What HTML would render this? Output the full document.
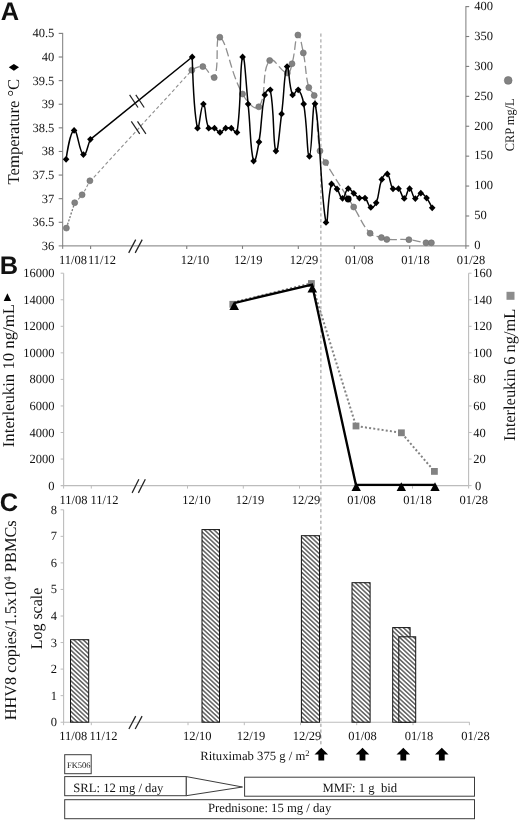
<!DOCTYPE html>
<html><head><meta charset="utf-8"><title>Figure</title>
<style>html,body{margin:0;padding:0;background:#fff;}body{width:520px;height:822px;overflow:hidden;font-family:"Liberation Serif",serif;}svg{display:block;will-change:transform;opacity:0.999;}text{text-rendering:geometricPrecision;}</style>
</head><body>
<svg width="520" height="822" viewBox="0 0 520 822">
<defs><pattern id="hatch" patternUnits="userSpaceOnUse" width="3.2" height="3.2" patternTransform="rotate(43)"><rect width="3.2" height="3.2" fill="#fff"/><line x1="0" y1="1.6" x2="3.2" y2="1.6" stroke="#0a0a0a" stroke-width="0.98"/></pattern></defs>
<rect width="520" height="822" fill="#fff"/>
<text x="0.8" y="19.7" font-family='"Liberation Sans", sans-serif' font-size="25.4" font-weight="bold" text-anchor="start" fill="#111" >A</text>
<text x="-0.2" y="273.7" font-family='"Liberation Sans", sans-serif' font-size="25.4" font-weight="bold" text-anchor="start" fill="#111" >B</text>
<text x="-0.2" y="510.6" font-family='"Liberation Sans", sans-serif' font-size="25.4" font-weight="bold" text-anchor="start" fill="#111" >C</text>
<line x1="320.9" y1="33.5" x2="320.9" y2="746" stroke="#8e8e8e" stroke-width="0.95" stroke-dasharray="3.2 2.6"/>
<line x1="62.7" y1="32.9" x2="62.7" y2="248.9" stroke="#7c7c7c" stroke-width="1" />
<line x1="58.7" y1="245.9" x2="465.9" y2="245.9" stroke="#7c7c7c" stroke-width="1" />
<line x1="465.9" y1="6.1" x2="465.9" y2="248.9" stroke="#7c7c7c" stroke-width="1" />
<text x="54.3" y="249.8" font-family='"Liberation Serif", serif' font-size="12.5" font-weight="normal" text-anchor="end" fill="#111" >36</text>
<line x1="58.7" y1="222.29" x2="62.7" y2="222.29" stroke="#7c7c7c" stroke-width="1.1" />
<text x="54.3" y="226.19" font-family='"Liberation Serif", serif' font-size="12.5" font-weight="normal" text-anchor="end" fill="#111" >36.5</text>
<line x1="58.7" y1="198.68" x2="62.7" y2="198.68" stroke="#7c7c7c" stroke-width="1.1" />
<text x="54.3" y="202.58" font-family='"Liberation Serif", serif' font-size="12.5" font-weight="normal" text-anchor="end" fill="#111" >37</text>
<line x1="58.7" y1="175.07" x2="62.7" y2="175.07" stroke="#7c7c7c" stroke-width="1.1" />
<text x="54.3" y="178.97" font-family='"Liberation Serif", serif' font-size="12.5" font-weight="normal" text-anchor="end" fill="#111" >37.5</text>
<line x1="58.7" y1="151.46" x2="62.7" y2="151.46" stroke="#7c7c7c" stroke-width="1.1" />
<text x="54.3" y="155.36" font-family='"Liberation Serif", serif' font-size="12.5" font-weight="normal" text-anchor="end" fill="#111" >38</text>
<line x1="58.7" y1="127.84" x2="62.7" y2="127.84" stroke="#7c7c7c" stroke-width="1.1" />
<text x="54.3" y="131.74" font-family='"Liberation Serif", serif' font-size="12.5" font-weight="normal" text-anchor="end" fill="#111" >38.5</text>
<line x1="58.7" y1="104.23" x2="62.7" y2="104.23" stroke="#7c7c7c" stroke-width="1.1" />
<text x="54.3" y="108.13" font-family='"Liberation Serif", serif' font-size="12.5" font-weight="normal" text-anchor="end" fill="#111" >39</text>
<line x1="58.7" y1="80.62" x2="62.7" y2="80.62" stroke="#7c7c7c" stroke-width="1.1" />
<text x="54.3" y="84.52" font-family='"Liberation Serif", serif' font-size="12.5" font-weight="normal" text-anchor="end" fill="#111" >39.5</text>
<line x1="58.7" y1="57.01" x2="62.7" y2="57.01" stroke="#7c7c7c" stroke-width="1.1" />
<text x="54.3" y="60.91" font-family='"Liberation Serif", serif' font-size="12.5" font-weight="normal" text-anchor="end" fill="#111" >40</text>
<line x1="58.7" y1="33.4" x2="62.7" y2="33.4" stroke="#7c7c7c" stroke-width="1.1" />
<text x="54.3" y="37.3" font-family='"Liberation Serif", serif' font-size="12.5" font-weight="normal" text-anchor="end" fill="#111" >40.5</text>
<line x1="465.9" y1="245.9" x2="469.2" y2="245.9" stroke="#7c7c7c" stroke-width="1.1" />
<text x="474.2" y="249.2" font-family='"Liberation Serif", serif' font-size="12.5" font-weight="normal" text-anchor="start" fill="#111" >0</text>
<line x1="465.9" y1="215.99" x2="469.2" y2="215.99" stroke="#7c7c7c" stroke-width="1.1" />
<text x="474.2" y="219.29" font-family='"Liberation Serif", serif' font-size="12.5" font-weight="normal" text-anchor="start" fill="#111" >50</text>
<line x1="465.9" y1="186.07" x2="469.2" y2="186.07" stroke="#7c7c7c" stroke-width="1.1" />
<text x="474.2" y="189.38" font-family='"Liberation Serif", serif' font-size="12.5" font-weight="normal" text-anchor="start" fill="#111" >100</text>
<line x1="465.9" y1="156.16" x2="469.2" y2="156.16" stroke="#7c7c7c" stroke-width="1.1" />
<text x="474.2" y="159.46" font-family='"Liberation Serif", serif' font-size="12.5" font-weight="normal" text-anchor="start" fill="#111" >150</text>
<line x1="465.9" y1="126.25" x2="469.2" y2="126.25" stroke="#7c7c7c" stroke-width="1.1" />
<text x="474.2" y="129.55" font-family='"Liberation Serif", serif' font-size="12.5" font-weight="normal" text-anchor="start" fill="#111" >200</text>
<line x1="465.9" y1="96.34" x2="469.2" y2="96.34" stroke="#7c7c7c" stroke-width="1.1" />
<text x="474.2" y="99.64" font-family='"Liberation Serif", serif' font-size="12.5" font-weight="normal" text-anchor="start" fill="#111" >250</text>
<line x1="465.9" y1="66.42" x2="469.2" y2="66.42" stroke="#7c7c7c" stroke-width="1.1" />
<text x="474.2" y="69.72" font-family='"Liberation Serif", serif' font-size="12.5" font-weight="normal" text-anchor="start" fill="#111" >300</text>
<line x1="465.9" y1="36.51" x2="469.2" y2="36.51" stroke="#7c7c7c" stroke-width="1.1" />
<text x="474.2" y="39.81" font-family='"Liberation Serif", serif' font-size="12.5" font-weight="normal" text-anchor="start" fill="#111" >350</text>
<line x1="465.9" y1="6.6" x2="469.2" y2="6.6" stroke="#7c7c7c" stroke-width="1.1" />
<text x="474.2" y="9.9" font-family='"Liberation Serif", serif' font-size="12.5" font-weight="normal" text-anchor="start" fill="#111" >400</text>
<line x1="90.6" y1="245.9" x2="90.6" y2="248.9" stroke="#7c7c7c" stroke-width="1.1" />
<line x1="186.75" y1="245.9" x2="186.75" y2="248.9" stroke="#7c7c7c" stroke-width="1.1" />
<line x1="242.5" y1="245.9" x2="242.5" y2="248.9" stroke="#7c7c7c" stroke-width="1.1" />
<line x1="298.3" y1="245.9" x2="298.3" y2="248.9" stroke="#7c7c7c" stroke-width="1.1" />
<line x1="354.3" y1="245.9" x2="354.3" y2="248.9" stroke="#7c7c7c" stroke-width="1.1" />
<line x1="409.7" y1="245.9" x2="409.7" y2="248.9" stroke="#7c7c7c" stroke-width="1.1" />
<text x="73.1" y="264.2" font-family='"Liberation Serif", serif' font-size="12.5" font-weight="normal" text-anchor="middle" fill="#111" >11/08</text>
<text x="102.1" y="264.2" font-family='"Liberation Serif", serif' font-size="12.5" font-weight="normal" text-anchor="middle" fill="#111" >11/12</text>
<text x="195" y="264.2" font-family='"Liberation Serif", serif' font-size="12.5" font-weight="normal" text-anchor="middle" fill="#111" >12/10</text>
<text x="248.2" y="264.2" font-family='"Liberation Serif", serif' font-size="12.5" font-weight="normal" text-anchor="middle" fill="#111" >12/19</text>
<text x="303.9" y="264.2" font-family='"Liberation Serif", serif' font-size="12.5" font-weight="normal" text-anchor="middle" fill="#111" >12/29</text>
<text x="359.2" y="264.2" font-family='"Liberation Serif", serif' font-size="12.5" font-weight="normal" text-anchor="middle" fill="#111" >01/08</text>
<text x="415.4" y="264.2" font-family='"Liberation Serif", serif' font-size="12.5" font-weight="normal" text-anchor="middle" fill="#111" >01/18</text>
<text x="471" y="264.2" font-family='"Liberation Serif", serif' font-size="12.5" font-weight="normal" text-anchor="middle" fill="#111" >01/28</text>
<line x1="128.7" y1="252.9" x2="135.7" y2="239.6" stroke="#222" stroke-width="1.25" />
<line x1="135.2" y1="252.9" x2="142.2" y2="239.6" stroke="#222" stroke-width="1.25" />
<text transform="translate(18.9 184.4) rotate(-90)" font-family='"Liberation Serif", serif' font-size="16.5" fill="#111" textLength="105.6" lengthAdjust="spacingAndGlyphs" >Temperature °C</text>
<path d="M8.8 67.3 L13.9 63.9 L19 67.3 L13.9 70.7Z" fill="#000"/>
<text transform="translate(513.5 151.2) rotate(-90)" font-family='"Liberation Serif", serif' font-size="13" fill="#111" textLength="52.9" lengthAdjust="spacingAndGlyphs" >CRP mg/L</text>
<circle cx="508.2" cy="80.4" r="3.9" fill="#828282" stroke="#6e6e6e" stroke-width="0.6"/>
<path d="M66.4 228.1 C66.4 228.1 70.97 214.13 74.7 202.7" fill="none" stroke="#777" stroke-width="1.3" stroke-dasharray="2 1.6"/>
<path d="M74.7 202.7 C74.7 202.7 79.34 198.77 82.1 194.8 C86.18 188.92 86.39 187.1 89.9 180.8" fill="none" stroke="#8f8f8f" stroke-width="1.1" stroke-dasharray="3 2"/>
<line x1="89.9" y1="181.6" x2="191.8" y2="70.3" stroke="#8f8f8f" stroke-width="1.1" stroke-dasharray="3.4 2.4"/>
<path d="M191.8 70.2 C191.8 70.2 198.54 65.19 202.8 66.6 C208.62 68.52 212.06 81.3 214.2 77.6 C219.71 68.07 214.71 34.25 219.8 37.2 C227.44 41.63 229.39 70.61 242.5 94 C246.94 101.93 255.09 111.38 258.8 106.8 C267.33 96.3 260.88 70.96 269.7 60.5 C273.7 55.75 280.51 72 287.3 73 C290.55 73.48 290.76 68.25 292 63.8 C295.53 51.15 294.79 38 297.9 35 C299.88 33.09 301.6 44.68 303.3 52.9 C306.5 68.35 304.94 72.53 308.8 87.6 C309.85 91.7 313.46 91.32 314.2 95.5 C318.5 119.81 315.81 126.42 320 150.9 C320.98 156.62 322.69 157.58 325.7 162.6 C337.85 182.83 341.14 187 353.7 207 C361.12 218.81 361.13 223.39 370.1 233.3 C373.6 237.16 376.29 235.73 381.4 237.6 C383.81 238.48 384.27 239.21 386.8 239.4 C396.64 240.15 399.02 238.84 408.9 239.7 C416.66 240.37 418.28 241.74 426 242.8 C428.4 243.13 428.97 242.8 431.4 242.8" fill="none" stroke="#8f8f8f" stroke-width="1.3" stroke-dasharray="8.5 3.5"/>
<line x1="131.3" y1="121.3" x2="139.7" y2="133.9" stroke="#222" stroke-width="1.2" />
<line x1="137.5" y1="121.3" x2="145.9" y2="133.9" stroke="#222" stroke-width="1.2" />
<circle cx="66.4" cy="228.1" r="3.0" fill="#828282" stroke="#6e6e6e" stroke-width="0.6"/>
<circle cx="74.7" cy="202.7" r="3.0" fill="#828282" stroke="#6e6e6e" stroke-width="0.6"/>
<circle cx="82.1" cy="194.8" r="3.0" fill="#828282" stroke="#6e6e6e" stroke-width="0.6"/>
<circle cx="89.9" cy="180.8" r="3.0" fill="#828282" stroke="#6e6e6e" stroke-width="0.6"/>
<circle cx="191.8" cy="70.2" r="3.0" fill="#828282" stroke="#6e6e6e" stroke-width="0.6"/>
<circle cx="202.8" cy="66.6" r="3.0" fill="#828282" stroke="#6e6e6e" stroke-width="0.6"/>
<circle cx="214.2" cy="77.6" r="3.0" fill="#828282" stroke="#6e6e6e" stroke-width="0.6"/>
<circle cx="219.8" cy="37.2" r="3.0" fill="#828282" stroke="#6e6e6e" stroke-width="0.6"/>
<circle cx="242.5" cy="94" r="3.0" fill="#828282" stroke="#6e6e6e" stroke-width="0.6"/>
<circle cx="258.8" cy="106.8" r="3.0" fill="#828282" stroke="#6e6e6e" stroke-width="0.6"/>
<circle cx="269.7" cy="60.5" r="3.0" fill="#828282" stroke="#6e6e6e" stroke-width="0.6"/>
<circle cx="287.3" cy="73" r="3.0" fill="#828282" stroke="#6e6e6e" stroke-width="0.6"/>
<circle cx="292" cy="63.8" r="3.0" fill="#828282" stroke="#6e6e6e" stroke-width="0.6"/>
<circle cx="297.9" cy="35" r="3.0" fill="#828282" stroke="#6e6e6e" stroke-width="0.6"/>
<circle cx="303.3" cy="52.9" r="3.0" fill="#828282" stroke="#6e6e6e" stroke-width="0.6"/>
<circle cx="308.8" cy="87.6" r="3.0" fill="#828282" stroke="#6e6e6e" stroke-width="0.6"/>
<circle cx="314.2" cy="95.5" r="3.0" fill="#828282" stroke="#6e6e6e" stroke-width="0.6"/>
<circle cx="320" cy="150.9" r="3.0" fill="#828282" stroke="#6e6e6e" stroke-width="0.6"/>
<circle cx="325.7" cy="162.6" r="3.0" fill="#828282" stroke="#6e6e6e" stroke-width="0.6"/>
<circle cx="353.7" cy="207" r="3.0" fill="#828282" stroke="#6e6e6e" stroke-width="0.6"/>
<circle cx="370.1" cy="233.3" r="3.0" fill="#828282" stroke="#6e6e6e" stroke-width="0.6"/>
<circle cx="381.4" cy="237.6" r="3.0" fill="#828282" stroke="#6e6e6e" stroke-width="0.6"/>
<circle cx="386.8" cy="239.4" r="3.0" fill="#828282" stroke="#6e6e6e" stroke-width="0.6"/>
<circle cx="408.9" cy="239.7" r="3.0" fill="#828282" stroke="#6e6e6e" stroke-width="0.6"/>
<circle cx="426" cy="242.8" r="3.0" fill="#828282" stroke="#6e6e6e" stroke-width="0.6"/>
<circle cx="431.4" cy="242.8" r="3.0" fill="#828282" stroke="#6e6e6e" stroke-width="0.6"/>
<path d="M66.1 159.3 C66.1 159.3 69.92 131.53 74.1 130.4 C77.71 129.42 78.95 152.17 83.4 154.6 C86.29 156.18 87.25 146.19 90.4 139.3" fill="none" stroke="#000" stroke-width="1.5" stroke-linejoin="round"/>
<line x1="90.4" y1="139.3" x2="192.2" y2="57" stroke="#000" stroke-width="1.5" />
<path d="M192.2 57 C192.2 57 193.76 112.47 197.5 128.2 C198.8 133.67 200.87 104.1 203.4 104.1 C205.91 104.1 204.66 119.42 208.7 128.2 C209.65 130.26 212.18 127.34 214.5 128.2 C217.27 129.23 217.51 132.4 220 132.4 C222.55 132.4 222.86 129.26 225.7 128.2 C227.95 127.37 229.05 127.37 231.3 128.2 C234.14 129.26 236.56 135.14 237 132.4 C241.65 103.1 239.53 64.83 242.6 57 C244.53 52.09 245.86 82.88 248.1 104.1 C250.81 129.73 249.96 148.43 253.6 161.1 C254.86 165.49 257.51 150.79 259 142 C262.55 121 260.41 115.18 264.8 94.9 C265.49 91.69 269.76 87.05 270.3 89.8 C274.75 112.34 272.74 144.37 275.9 151.1 C277.83 155.21 279.38 130.69 281.6 113.9 C284.42 92.66 284.02 71.93 287.1 66.6 C288.97 63.38 288.64 86.63 292.6 94.9 C293.64 97.07 296.54 88.44 298.2 89.8 C301.54 92.53 302.57 97.28 303.7 104 C307.61 127.21 306.86 156.34 309.4 156.3 C311.95 156.25 312.71 94.66 315 103.8 C320.18 124.41 320.4 195.18 326 222.4 C327.82 231.27 327.35 196.61 331.5 184 C332.3 181.58 334.98 186.38 337 189 C339.93 192.81 340.03 198.39 342.5 198.3 C345.07 198.21 345.12 189.96 348.2 188.6 C350.2 187.71 351.29 191.17 353.8 193.3 C356.33 195.45 356.54 196.87 359.4 198.1 C361.58 199.03 363.27 196.68 365 198.1 C368.4 200.87 367.74 206.12 370.8 207.4 C372.78 208.23 375.07 205.67 376.2 202.8 C380.02 193.07 378.02 189.22 381.8 179.4 C383.01 176.26 385.65 172.62 387.3 174 C390.69 176.85 389.26 183.89 393 188.8 C394.3 190.5 396.84 187.28 398.5 188.7 C401.88 191.6 401.69 198.4 404.2 198.4 C406.68 198.4 407.14 188.66 409.6 188.7 C412.13 188.75 412.29 197.39 415.3 198.6 C417.33 199.42 418.24 193.31 420.8 193.2 C423.32 193.09 424.53 195.45 426.6 198.1 C429.66 202.02 429.68 203.44 432.2 207.8" fill="none" stroke="#000" stroke-width="1.5" stroke-linejoin="round"/>
<line x1="129.6" y1="94.9" x2="138" y2="107.5" stroke="#222" stroke-width="1.2" />
<line x1="135.8" y1="94.9" x2="144.2" y2="107.5" stroke="#222" stroke-width="1.2" />
<path d="M62.8 159.3 L66.1 155.9 L69.4 159.3 L66.1 162.7Z" fill="#000"/>
<path d="M70.8 130.4 L74.1 127 L77.4 130.4 L74.1 133.8Z" fill="#000"/>
<path d="M80.1 154.6 L83.4 151.2 L86.7 154.6 L83.4 158Z" fill="#000"/>
<path d="M87.1 139.3 L90.4 135.9 L93.7 139.3 L90.4 142.7Z" fill="#000"/>
<path d="M188.9 57 L192.2 53.6 L195.5 57 L192.2 60.4Z" fill="#000"/>
<path d="M194.2 128.2 L197.5 124.8 L200.8 128.2 L197.5 131.6Z" fill="#000"/>
<path d="M200.1 104.1 L203.4 100.7 L206.7 104.1 L203.4 107.5Z" fill="#000"/>
<path d="M205.4 128.2 L208.7 124.8 L212 128.2 L208.7 131.6Z" fill="#000"/>
<path d="M211.2 128.2 L214.5 124.8 L217.8 128.2 L214.5 131.6Z" fill="#000"/>
<path d="M216.7 132.4 L220 129 L223.3 132.4 L220 135.8Z" fill="#000"/>
<path d="M222.4 128.2 L225.7 124.8 L229 128.2 L225.7 131.6Z" fill="#000"/>
<path d="M228 128.2 L231.3 124.8 L234.6 128.2 L231.3 131.6Z" fill="#000"/>
<path d="M233.7 132.4 L237 129 L240.3 132.4 L237 135.8Z" fill="#000"/>
<path d="M239.3 57 L242.6 53.6 L245.9 57 L242.6 60.4Z" fill="#000"/>
<path d="M244.8 104.1 L248.1 100.7 L251.4 104.1 L248.1 107.5Z" fill="#000"/>
<path d="M250.3 161.1 L253.6 157.7 L256.9 161.1 L253.6 164.5Z" fill="#000"/>
<path d="M255.7 142 L259 138.6 L262.3 142 L259 145.4Z" fill="#000"/>
<path d="M261.5 94.9 L264.8 91.5 L268.1 94.9 L264.8 98.3Z" fill="#000"/>
<path d="M267 89.8 L270.3 86.4 L273.6 89.8 L270.3 93.2Z" fill="#000"/>
<path d="M272.6 151.1 L275.9 147.7 L279.2 151.1 L275.9 154.5Z" fill="#000"/>
<path d="M278.3 113.9 L281.6 110.5 L284.9 113.9 L281.6 117.3Z" fill="#000"/>
<path d="M283.8 66.6 L287.1 63.2 L290.4 66.6 L287.1 70Z" fill="#000"/>
<path d="M289.3 94.9 L292.6 91.5 L295.9 94.9 L292.6 98.3Z" fill="#000"/>
<path d="M294.9 89.8 L298.2 86.4 L301.5 89.8 L298.2 93.2Z" fill="#000"/>
<path d="M300.4 104 L303.7 100.6 L307 104 L303.7 107.4Z" fill="#000"/>
<path d="M306.1 156.3 L309.4 152.9 L312.7 156.3 L309.4 159.7Z" fill="#000"/>
<path d="M311.7 103.8 L315 100.4 L318.3 103.8 L315 107.2Z" fill="#000"/>
<path d="M322.7 222.4 L326 219 L329.3 222.4 L326 225.8Z" fill="#000"/>
<path d="M328.2 184 L331.5 180.6 L334.8 184 L331.5 187.4Z" fill="#000"/>
<path d="M333.7 189 L337 185.6 L340.3 189 L337 192.4Z" fill="#000"/>
<path d="M339.2 198.3 L342.5 194.9 L345.8 198.3 L342.5 201.7Z" fill="#000"/>
<path d="M344.9 188.6 L348.2 185.2 L351.5 188.6 L348.2 192Z" fill="#000"/>
<path d="M350.5 193.3 L353.8 189.9 L357.1 193.3 L353.8 196.7Z" fill="#000"/>
<path d="M356.1 198.1 L359.4 194.7 L362.7 198.1 L359.4 201.5Z" fill="#000"/>
<path d="M361.7 198.1 L365 194.7 L368.3 198.1 L365 201.5Z" fill="#000"/>
<path d="M367.5 207.4 L370.8 204 L374.1 207.4 L370.8 210.8Z" fill="#000"/>
<path d="M372.9 202.8 L376.2 199.4 L379.5 202.8 L376.2 206.2Z" fill="#000"/>
<path d="M378.5 179.4 L381.8 176 L385.1 179.4 L381.8 182.8Z" fill="#000"/>
<path d="M384 174 L387.3 170.6 L390.6 174 L387.3 177.4Z" fill="#000"/>
<path d="M389.7 188.8 L393 185.4 L396.3 188.8 L393 192.2Z" fill="#000"/>
<path d="M395.2 188.7 L398.5 185.3 L401.8 188.7 L398.5 192.1Z" fill="#000"/>
<path d="M400.9 198.4 L404.2 195 L407.5 198.4 L404.2 201.8Z" fill="#000"/>
<path d="M406.3 188.7 L409.6 185.3 L412.9 188.7 L409.6 192.1Z" fill="#000"/>
<path d="M412 198.6 L415.3 195.2 L418.6 198.6 L415.3 202Z" fill="#000"/>
<path d="M417.5 193.2 L420.8 189.8 L424.1 193.2 L420.8 196.6Z" fill="#000"/>
<path d="M423.3 198.1 L426.6 194.7 L429.9 198.1 L426.6 201.5Z" fill="#000"/>
<path d="M428.9 207.8 L432.2 204.4 L435.5 207.8 L432.2 211.2Z" fill="#000"/>
<circle cx="348.2" cy="199" r="3.4" fill="#000"/>
<line x1="63.65" y1="273.2" x2="63.65" y2="485.6" stroke="#bcbcbc" stroke-width="1.1" />
<line x1="60.65" y1="485.6" x2="468.6" y2="485.6" stroke="#bcbcbc" stroke-width="1.1" />
<line x1="468.6" y1="273.2" x2="468.6" y2="488.6" stroke="#bcbcbc" stroke-width="1.1" />
<line x1="468.6" y1="485.6" x2="471.6" y2="485.6" stroke="#bcbcbc" stroke-width="1" />
<text x="54.6" y="489.6" font-family='"Liberation Serif", serif' font-size="12.5" font-weight="normal" text-anchor="end" fill="#111" >0</text>
<text x="475" y="489.6" font-family='"Liberation Serif", serif' font-size="12.5" font-weight="normal" text-anchor="start" fill="#111" >0</text>
<line x1="60.65" y1="459.05" x2="63.65" y2="459.05" stroke="#bcbcbc" stroke-width="1" />
<line x1="468.6" y1="459.05" x2="471.6" y2="459.05" stroke="#bcbcbc" stroke-width="1" />
<text x="54.6" y="463.05" font-family='"Liberation Serif", serif' font-size="12.5" font-weight="normal" text-anchor="end" fill="#111" >2000</text>
<text x="473.2" y="463.05" font-family='"Liberation Serif", serif' font-size="12.5" font-weight="normal" text-anchor="start" fill="#111" >20</text>
<line x1="60.65" y1="432.5" x2="63.65" y2="432.5" stroke="#bcbcbc" stroke-width="1" />
<line x1="468.6" y1="432.5" x2="471.6" y2="432.5" stroke="#bcbcbc" stroke-width="1" />
<text x="54.6" y="436.5" font-family='"Liberation Serif", serif' font-size="12.5" font-weight="normal" text-anchor="end" fill="#111" >4000</text>
<text x="473.2" y="436.5" font-family='"Liberation Serif", serif' font-size="12.5" font-weight="normal" text-anchor="start" fill="#111" >40</text>
<line x1="60.65" y1="405.95" x2="63.65" y2="405.95" stroke="#bcbcbc" stroke-width="1" />
<line x1="468.6" y1="405.95" x2="471.6" y2="405.95" stroke="#bcbcbc" stroke-width="1" />
<text x="54.6" y="409.95" font-family='"Liberation Serif", serif' font-size="12.5" font-weight="normal" text-anchor="end" fill="#111" >6000</text>
<text x="473.2" y="409.95" font-family='"Liberation Serif", serif' font-size="12.5" font-weight="normal" text-anchor="start" fill="#111" >60</text>
<line x1="60.65" y1="379.4" x2="63.65" y2="379.4" stroke="#bcbcbc" stroke-width="1" />
<line x1="468.6" y1="379.4" x2="471.6" y2="379.4" stroke="#bcbcbc" stroke-width="1" />
<text x="54.6" y="383.4" font-family='"Liberation Serif", serif' font-size="12.5" font-weight="normal" text-anchor="end" fill="#111" >8000</text>
<text x="473.2" y="383.4" font-family='"Liberation Serif", serif' font-size="12.5" font-weight="normal" text-anchor="start" fill="#111" >80</text>
<line x1="60.65" y1="352.85" x2="63.65" y2="352.85" stroke="#bcbcbc" stroke-width="1" />
<line x1="468.6" y1="352.85" x2="471.6" y2="352.85" stroke="#bcbcbc" stroke-width="1" />
<text x="54.6" y="356.85" font-family='"Liberation Serif", serif' font-size="12.5" font-weight="normal" text-anchor="end" fill="#111" >10000</text>
<text x="473.2" y="356.85" font-family='"Liberation Serif", serif' font-size="12.5" font-weight="normal" text-anchor="start" fill="#111" >100</text>
<line x1="60.65" y1="326.3" x2="63.65" y2="326.3" stroke="#bcbcbc" stroke-width="1" />
<line x1="468.6" y1="326.3" x2="471.6" y2="326.3" stroke="#bcbcbc" stroke-width="1" />
<text x="54.6" y="330.3" font-family='"Liberation Serif", serif' font-size="12.5" font-weight="normal" text-anchor="end" fill="#111" >12000</text>
<text x="473.2" y="330.3" font-family='"Liberation Serif", serif' font-size="12.5" font-weight="normal" text-anchor="start" fill="#111" >120</text>
<line x1="60.65" y1="299.75" x2="63.65" y2="299.75" stroke="#bcbcbc" stroke-width="1" />
<line x1="468.6" y1="299.75" x2="471.6" y2="299.75" stroke="#bcbcbc" stroke-width="1" />
<text x="54.6" y="303.75" font-family='"Liberation Serif", serif' font-size="12.5" font-weight="normal" text-anchor="end" fill="#111" >14000</text>
<text x="473.2" y="303.75" font-family='"Liberation Serif", serif' font-size="12.5" font-weight="normal" text-anchor="start" fill="#111" >140</text>
<line x1="60.65" y1="273.2" x2="63.65" y2="273.2" stroke="#bcbcbc" stroke-width="1" />
<line x1="468.6" y1="273.2" x2="471.6" y2="273.2" stroke="#bcbcbc" stroke-width="1" />
<text x="54.6" y="277.2" font-family='"Liberation Serif", serif' font-size="12.5" font-weight="normal" text-anchor="end" fill="#111" >16000</text>
<text x="473.2" y="277.2" font-family='"Liberation Serif", serif' font-size="12.5" font-weight="normal" text-anchor="start" fill="#111" >160</text>
<line x1="63.6" y1="485.6" x2="63.6" y2="488.6" stroke="#bcbcbc" stroke-width="1" />
<line x1="91.3" y1="485.6" x2="91.3" y2="488.6" stroke="#bcbcbc" stroke-width="1" />
<line x1="187.5" y1="485.6" x2="187.5" y2="488.6" stroke="#bcbcbc" stroke-width="1" />
<line x1="243.3" y1="485.6" x2="243.3" y2="488.6" stroke="#bcbcbc" stroke-width="1" />
<line x1="299.5" y1="485.6" x2="299.5" y2="488.6" stroke="#bcbcbc" stroke-width="1" />
<line x1="356" y1="485.6" x2="356" y2="488.6" stroke="#bcbcbc" stroke-width="1" />
<line x1="412.5" y1="485.6" x2="412.5" y2="488.6" stroke="#bcbcbc" stroke-width="1" />
<text x="73.5" y="504.1" font-family='"Liberation Serif", serif' font-size="12.5" font-weight="normal" text-anchor="middle" fill="#111" >11/08</text>
<text x="104.4" y="504.1" font-family='"Liberation Serif", serif' font-size="12.5" font-weight="normal" text-anchor="middle" fill="#111" >11/12</text>
<text x="196.5" y="504.1" font-family='"Liberation Serif", serif' font-size="12.5" font-weight="normal" text-anchor="middle" fill="#111" >12/10</text>
<text x="250" y="504.1" font-family='"Liberation Serif", serif' font-size="12.5" font-weight="normal" text-anchor="middle" fill="#111" >12/19</text>
<text x="306" y="504.1" font-family='"Liberation Serif", serif' font-size="12.5" font-weight="normal" text-anchor="middle" fill="#111" >12/29</text>
<text x="361.5" y="504.1" font-family='"Liberation Serif", serif' font-size="12.5" font-weight="normal" text-anchor="middle" fill="#111" >01/08</text>
<text x="417.5" y="504.1" font-family='"Liberation Serif", serif' font-size="12.5" font-weight="normal" text-anchor="middle" fill="#111" >01/18</text>
<text x="473.8" y="504.1" font-family='"Liberation Serif", serif' font-size="12.5" font-weight="normal" text-anchor="middle" fill="#111" >01/28</text>
<line x1="132.1" y1="492.9" x2="138.85" y2="479.3" stroke="#222" stroke-width="1.25" />
<line x1="138.4" y1="492.9" x2="145.3" y2="479.3" stroke="#222" stroke-width="1.25" />
<text transform="translate(14.3 447.2) rotate(-90)" font-family='"Liberation Serif", serif' font-size="16.5" fill="#111" textLength="143.2" lengthAdjust="spacingAndGlyphs" >Interleukin 10 ng/mL</text>
<path d="M7.4 293.3 L11.1 300.9 L3.7 300.9Z" fill="#000"/>
<text transform="translate(514.7 441) rotate(-90)" font-family='"Liberation Serif", serif' font-size="16.5" fill="#111" textLength="132.4" lengthAdjust="spacingAndGlyphs" >Interleukin 6 ng/mL</text>
<rect x="506.5" y="291.8" width="8" height="8" fill="#8c8c8c"/>
<rect x="229.4" y="300.9" width="6.8" height="6.8" fill="#828282"/>
<rect x="308" y="280.1" width="6.8" height="6.8" fill="#828282"/>
<rect x="352.6" y="422.6" width="6.8" height="6.8" fill="#828282"/>
<rect x="398" y="429.4" width="6.8" height="6.8" fill="#828282"/>
<rect x="431" y="468" width="6.8" height="6.8" fill="#828282"/>
<path d="M233 302.4 L311.6 283.3 L356 426 L401.4 432.8 L434.4 471.4" fill="none" stroke="#828282" stroke-width="2" stroke-dasharray="2 2.2"/>
<path d="M235 302.8 L312 284.6 L355.9 484.8 L435 484.8" fill="none" stroke="#000" stroke-width="2.35" stroke-linejoin="miter"/>
<path d="M234.2 301.2 L239 310 L229.4 310Z" fill="#000"/>
<path d="M312.3 283.8 L317.1 292.6 L307.5 292.6Z" fill="#000"/>
<path d="M356.2 482.2 L360.9 491 L351.5 491Z" fill="#000"/>
<path d="M401.3 482.2 L406 491 L396.6 491Z" fill="#000"/>
<path d="M435 482.2 L439.7 491 L430.3 491Z" fill="#000"/>
<line x1="63.6" y1="509.8" x2="63.6" y2="722.2" stroke="#bcbcbc" stroke-width="1.1" />
<line x1="60.6" y1="722.2" x2="469.6" y2="722.2" stroke="#bcbcbc" stroke-width="1.1" />
<text x="56.9" y="726.2" font-family='"Liberation Serif", serif' font-size="12.5" font-weight="normal" text-anchor="end" fill="#111" >0</text>
<line x1="60.6" y1="695.65" x2="63.6" y2="695.65" stroke="#bcbcbc" stroke-width="1" />
<text x="56.9" y="699.65" font-family='"Liberation Serif", serif' font-size="12.5" font-weight="normal" text-anchor="end" fill="#111" >1</text>
<line x1="60.6" y1="669.1" x2="63.6" y2="669.1" stroke="#bcbcbc" stroke-width="1" />
<text x="56.9" y="673.1" font-family='"Liberation Serif", serif' font-size="12.5" font-weight="normal" text-anchor="end" fill="#111" >2</text>
<line x1="60.6" y1="642.55" x2="63.6" y2="642.55" stroke="#bcbcbc" stroke-width="1" />
<text x="56.9" y="646.55" font-family='"Liberation Serif", serif' font-size="12.5" font-weight="normal" text-anchor="end" fill="#111" >3</text>
<line x1="60.6" y1="616" x2="63.6" y2="616" stroke="#bcbcbc" stroke-width="1" />
<text x="56.9" y="620" font-family='"Liberation Serif", serif' font-size="12.5" font-weight="normal" text-anchor="end" fill="#111" >4</text>
<line x1="60.6" y1="589.45" x2="63.6" y2="589.45" stroke="#bcbcbc" stroke-width="1" />
<text x="56.9" y="593.45" font-family='"Liberation Serif", serif' font-size="12.5" font-weight="normal" text-anchor="end" fill="#111" >5</text>
<line x1="60.6" y1="562.9" x2="63.6" y2="562.9" stroke="#bcbcbc" stroke-width="1" />
<text x="56.9" y="566.9" font-family='"Liberation Serif", serif' font-size="12.5" font-weight="normal" text-anchor="end" fill="#111" >6</text>
<line x1="60.6" y1="536.35" x2="63.6" y2="536.35" stroke="#bcbcbc" stroke-width="1" />
<text x="56.9" y="540.35" font-family='"Liberation Serif", serif' font-size="12.5" font-weight="normal" text-anchor="end" fill="#111" >7</text>
<line x1="60.6" y1="509.8" x2="63.6" y2="509.8" stroke="#bcbcbc" stroke-width="1" />
<text x="56.9" y="513.8" font-family='"Liberation Serif", serif' font-size="12.5" font-weight="normal" text-anchor="end" fill="#111" >8</text>
<line x1="63.6" y1="722.2" x2="63.6" y2="725.2" stroke="#bcbcbc" stroke-width="1" />
<line x1="91.3" y1="722.2" x2="91.3" y2="725.2" stroke="#bcbcbc" stroke-width="1" />
<line x1="188" y1="722.2" x2="188" y2="725.2" stroke="#bcbcbc" stroke-width="1" />
<line x1="244.3" y1="722.2" x2="244.3" y2="725.2" stroke="#bcbcbc" stroke-width="1" />
<line x1="300.5" y1="722.2" x2="300.5" y2="725.2" stroke="#bcbcbc" stroke-width="1" />
<line x1="356.7" y1="722.2" x2="356.7" y2="725.2" stroke="#bcbcbc" stroke-width="1" />
<line x1="413" y1="722.2" x2="413" y2="725.2" stroke="#bcbcbc" stroke-width="1" />
<line x1="469.4" y1="722.2" x2="469.4" y2="725.2" stroke="#bcbcbc" stroke-width="1" />
<text x="73.2" y="740.1" font-family='"Liberation Serif", serif' font-size="12.5" font-weight="normal" text-anchor="middle" fill="#111" >11/08</text>
<text x="103.5" y="740.1" font-family='"Liberation Serif", serif' font-size="12.5" font-weight="normal" text-anchor="middle" fill="#111" >11/12</text>
<text x="197.3" y="740.1" font-family='"Liberation Serif", serif' font-size="12.5" font-weight="normal" text-anchor="middle" fill="#111" >12/10</text>
<text x="251" y="740.1" font-family='"Liberation Serif", serif' font-size="12.5" font-weight="normal" text-anchor="middle" fill="#111" >12/19</text>
<text x="307" y="740.1" font-family='"Liberation Serif", serif' font-size="12.5" font-weight="normal" text-anchor="middle" fill="#111" >12/29</text>
<text x="362.5" y="740.1" font-family='"Liberation Serif", serif' font-size="12.5" font-weight="normal" text-anchor="middle" fill="#111" >01/08</text>
<text x="419" y="740.1" font-family='"Liberation Serif", serif' font-size="12.5" font-weight="normal" text-anchor="middle" fill="#111" >01/18</text>
<text x="475.4" y="740.1" font-family='"Liberation Serif", serif' font-size="12.5" font-weight="normal" text-anchor="middle" fill="#111" >01/28</text>
<line x1="128.9" y1="729" x2="135.7" y2="716.1" stroke="#222" stroke-width="1.25" />
<line x1="135.2" y1="729" x2="142.1" y2="716.1" stroke="#222" stroke-width="1.25" />
<text transform="translate(16.3 720.3) rotate(-90)" font-family='"Liberation Serif", serif' font-size="16.5" fill="#111" textLength="200" lengthAdjust="spacingAndGlyphs" >HHV8 copies/1.5x10<tspan font-size="10.5" dy="-5.5">4</tspan><tspan dy="5.5"> PBMCs</tspan></text>
<text transform="translate(41.8 649.3) rotate(-90)" font-family='"Liberation Serif", serif' font-size="16.5" fill="#111" textLength="61.6" lengthAdjust="spacingAndGlyphs" >Log scale</text>
<rect x="70.5" y="639.7" width="18.2" height="82.5" fill="url(#hatch)" stroke="#111" stroke-width="1"/>
<rect x="202" y="529.6" width="17.5" height="192.6" fill="url(#hatch)" stroke="#111" stroke-width="1"/>
<rect x="301.4" y="535.7" width="18.1" height="186.5" fill="url(#hatch)" stroke="#111" stroke-width="1"/>
<rect x="352" y="582.7" width="18.1" height="139.5" fill="url(#hatch)" stroke="#111" stroke-width="1"/>
<rect x="392.7" y="627.6" width="17.4" height="94.6" fill="url(#hatch)" stroke="#111" stroke-width="1"/>
<rect x="398.8" y="636.8" width="16.9" height="85.4" fill="url(#hatch)" stroke="#111" stroke-width="1"/>
<text x="200.3" y="760" font-family='"Liberation Serif", serif' font-size="12.7" font-weight="normal" text-anchor="start" fill="#111" >Rituximab 375 g / m<tspan font-size="8.5" dy="-4.5">2</tspan></text>
<path d="M321.3 747.8 L328.1 754.4 L324.2 754.4 L324.2 760.6 L318.4 760.6 L318.4 754.4 L314.5 754.4Z" fill="#000"/>
<path d="M362.5 747.8 L369.3 754.4 L365.4 754.4 L365.4 760.6 L359.6 760.6 L359.6 754.4 L355.7 754.4Z" fill="#000"/>
<path d="M403.3 747.8 L410.1 754.4 L406.2 754.4 L406.2 760.6 L400.4 760.6 L400.4 754.4 L396.5 754.4Z" fill="#000"/>
<path d="M441.8 747.8 L448.6 754.4 L444.7 754.4 L444.7 760.6 L438.9 760.6 L438.9 754.4 L435 754.4Z" fill="#000"/>
<rect x="64.7" y="754.7" width="26.5" height="19" fill="#fff" stroke="#3c3c3c" stroke-width="1"/>
<text x="67" y="767.6" font-family='"Liberation Serif", serif' font-size="8.5" font-weight="normal" text-anchor="start" fill="#111" >FK506</text>
<rect x="64.7" y="776.6" width="121.6" height="19.1" fill="#fff" stroke="#3c3c3c" stroke-width="1"/>
<path d="M186.3 776.6 L242.5 787 L186.3 795.7Z" fill="#fff" stroke="#3c3c3c" stroke-width="1" stroke-linejoin="miter"/>
<rect x="244.6" y="777.2" width="229.9" height="19" fill="#fff" stroke="#3c3c3c" stroke-width="1"/>
<rect x="64.7" y="799.7" width="409.8" height="19" fill="#fff" stroke="#3c3c3c" stroke-width="1"/>
<text x="73.2" y="791.8" font-family='"Liberation Serif", serif' font-size="12.7" font-weight="normal" text-anchor="start" fill="#111" >SRL: 12 mg / day</text>
<text x="322.4" y="791.8" font-family='"Liberation Serif", serif' font-size="12.7" font-weight="normal" text-anchor="start" fill="#111" xml:space="preserve">MMF: 1 g&#160; bid</text>
<text x="208" y="812" font-family='"Liberation Serif", serif' font-size="12.7" font-weight="normal" text-anchor="start" fill="#111" >Prednisone: 15 mg / day</text>
</svg>
</body></html>
